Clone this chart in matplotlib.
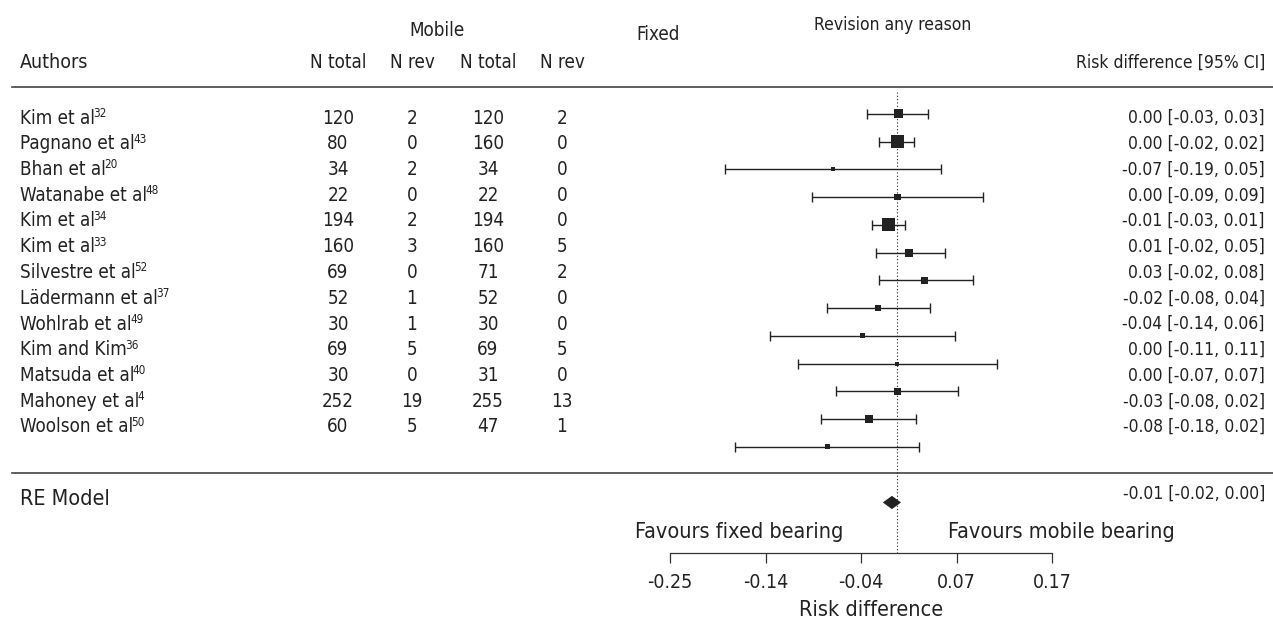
import numpy as np
import matplotlib
matplotlib.use('Agg')
import matplotlib.pyplot as plt


####################################################################################################
# Data #############################################################################################
####################################################################################################
authors = ['Kim et al', 'Pagnano et al', 'Bhan et al', 'Watanabe et al', 'Kim et al', 'Kim et al',
           'Silvestre et al', 'Lädermann et al', 'Wohlrab et al', 'Kim and Kim', 'Matsuda et al',
           'Mahoney et al', 'Woolson et al']
refs = ['32', '43', '20', '48', '34', '33', '52', '37', '49', '36', '40', '4', '50']

mob_n = [120, 80, 34, 22, 194, 160, 69, 52, 30, 69, 30, 252, 60]
mob_rev = [2, 0, 2, 0, 2, 3, 0, 1, 1, 5, 0, 19, 5]
fix_n = [120, 160, 34, 22, 194, 160, 71, 52, 30, 69, 31, 255, 47]
fix_rev = [2, 0, 0, 0, 0, 5, 2, 0, 0, 5, 0, 13, 1]

# risk difference and 95% CI per study
rd = [0.001, 0.0, -0.071, 0.0, -0.010, 0.013, 0.030, -0.021, -0.038, 0.0, 0.0, -0.031, -0.077]
ci_lo = [-0.033, -0.020, -0.189, -0.094, -0.028, -0.023, -0.020, -0.077, -0.140, -0.109, -0.067, -0.084, -0.178]
ci_hi = [0.034, 0.018, 0.048, 0.094, 0.008, 0.052, 0.083, 0.036, 0.063, 0.109, 0.067, 0.021, 0.024]
# relative study weights (box size)
weights = [9, 13, 4, 6.5, 13, 8, 7, 6, 5, 4, 7, 8, 5]

# random effects summary
re_est, re_lo, re_hi = -0.006, -0.016, 0.004

x_ticks = np.linspace(-0.25, 0.17, 5)
x_tick_labels = ['-0.25', '-0.14', '-0.04', '0.07', '0.17']


####################################################################################################
# Figure ###########################################################################################
####################################################################################################
plt.rcParams['font.family'] = ['DejaVu Sans']
plt.rcParams['font.stretch'] = 'condensed'

W, H = 1273, 628
fs = 13.5        # table text
fs_ci = 12.5     # right hand column
fs_low = 15.5    # labels below the plot
ink = '#222222'
rule = '#333333'

fig = plt.figure(figsize=(W / 100, H / 100), dpi=100)

# table axes in pixel layout
ax = fig.add_axes([0, 0, 1, 1])
ax.set_xlim(0, W)
ax.set_ylim(H, 0)
ax.axis('off')

col_x = [338, 412, 488, 562]

ax.text(437, 30, 'Mobile', ha='center', va='center', fontsize=fs, color=ink)
ax.text(658, 35, 'Fixed', ha='center', va='center', fontsize=fs, color=ink)
ax.text(893, 25, 'Revision any reason', ha='center', va='center', fontsize=fs_ci, color=ink)

ax.text(20, 63, 'Authors', ha='left', va='center', fontsize=fs + 0.5, color=ink)
for x, lab in zip(col_x, ['N total', 'N rev', 'N total', 'N rev']):
    ax.text(x, 63, lab, ha='center', va='center', fontsize=fs, color=ink)
ax.text(1265, 63, 'Risk difference [95% CI]', ha='right', va='center', fontsize=fs_ci, color=ink)

ax.plot([12, W], [87, 87], color=rule, lw=1.1)
ax.plot([12, W], [473, 473], color=rule, lw=1.1)

row_y0, row_dy = 118, 25.75
for i in range(len(authors)):
    y = row_y0 + i * row_dy
    name = ax.text(20, y, authors[i], ha='left', va='center', fontsize=fs, color=ink)
    # reference number as a small superscript right after the name
    ax.annotate(refs[i], xy=(1.0, 0.93), xycoords=name, xytext=(-1.2, 2.2), textcoords='offset points',
                ha='left', va='top', fontsize=fs * 0.62, color=ink)
    for x, v in zip(col_x, [mob_n[i], mob_rev[i], fix_n[i], fix_rev[i]]):
        ax.text(x, y, str(v), ha='center', va='center', fontsize=fs, color=ink)
    ci_str = '%.2f [%.2f, %.2f]' % (rd[i], ci_lo[i], ci_hi[i])
    ax.text(1265, y, ci_str, ha='right', va='center', fontsize=fs_ci, color=ink)

ax.text(20, 499, 'RE Model', ha='left', va='center', fontsize=fs_low, color=ink)
ax.text(1265, 494, '%.2f [%.2f, %.2f]' % (re_est, re_lo, re_hi), ha='right', va='center',
        fontsize=fs_ci, color=ink)

ax.text(843, 532, 'Favours fixed bearing', ha='right', va='center', fontsize=fs_low, color=ink)
ax.text(948, 532, 'Favours mobile bearing', ha='left', va='center', fontsize=fs_low, color=ink)
ax.text(871, 610, 'Risk difference', ha='center', va='center', fontsize=fs_low, color=ink)

# forest axes
x_left, x_right, y_top, y_axis = 670, 1052, 92, 553
fx = fig.add_axes([x_left / W, 1 - y_axis / H, (x_right - x_left) / W, (y_axis - y_top) / H])
fx.patch.set_alpha(0)
fx.set_xlim(-0.25, 0.17)
fx.set_ylim(15.82, -0.79)
for s in ['top', 'left', 'right']:
    fx.spines[s].set_visible(False)
fx.spines['bottom'].set_color(rule)
fx.spines['bottom'].set_linewidth(0.9)
fx.set_yticks([])
fx.set_xticks(x_ticks)
fx.set_xticklabels(x_tick_labels, fontsize=fs + 0.5, color=ink)
fx.tick_params(axis='x', direction='out', length=7.5, width=0.9, color=rule, pad=7)

rows = np.arange(len(rd))
fx.axvline(0, color=ink, lw=0.8, ls=(0, (1, 2)))
fx.hlines(rows, ci_lo, ci_hi, color=ink, lw=1.0)
fx.vlines(ci_lo, rows - 0.18, rows + 0.18, color=ink, lw=1.0)
fx.vlines(ci_hi, rows - 0.18, rows + 0.18, color=ink, lw=1.0)
fx.scatter(rd, rows, s=(np.array(weights) * 0.72) ** 2, marker='s', color=ink, linewidths=0, zorder=3)

re_row = 14
fx.fill([re_lo, re_est, re_hi, re_est], [re_row, re_row - 0.24, re_row, re_row + 0.24],
        color=ink, lw=0, zorder=3)

fig.savefig('out.png', dpi=100)
